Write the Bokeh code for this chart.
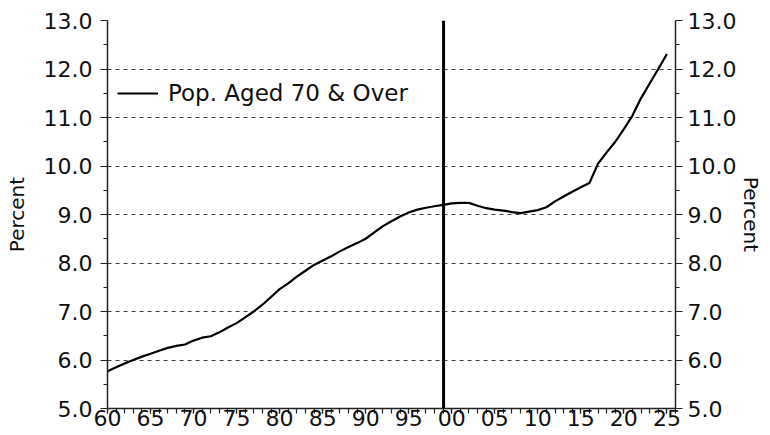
from bokeh.plotting import figure
from bokeh.models import FixedTicker, LinearAxis, Span, Legend, LegendItem, Range1d
from bokeh.embed import file_html
from bokeh.resources import INLINE

YEARS = list(range(1960, 2026))
POP70 = [
    5.77, 5.85, 5.93, 6.00, 6.07, 6.13, 6.19, 6.25, 6.29, 6.32,
    6.40, 6.46, 6.49, 6.57, 6.67, 6.76, 6.88, 7.00, 7.14, 7.30,
    7.46, 7.58, 7.72, 7.84, 7.96, 8.05, 8.14, 8.24, 8.33, 8.41,
    8.50, 8.63, 8.76, 8.86, 8.96, 9.04, 9.10, 9.14, 9.17, 9.20,
    9.23, 9.24, 9.24, 9.18, 9.13, 9.10, 9.08, 9.05, 9.03, 9.06,
    9.09, 9.15, 9.27, 9.37, 9.47, 9.56, 9.65, 10.05, 10.28, 10.50,
    10.76, 11.04, 11.40, 11.70, 12.00, 12.31,
]
SERIES_NAME = "Pop. Aged 70 & Over"
X_TICKS = list(range(1960, 2026, 5))
X_TICK_LABELS = ["60", "65", "70", "75", "80", "85", "90", "95",
                 "00", "05", "10", "15", "20", "25"]
X_MINOR = list(range(1960, 2027))
Y_TICKS = [5.0, 6.0, 7.0, 8.0, 9.0, 10.0, 11.0, 12.0, 13.0]
Y_MINOR = [5.5, 6.5, 7.5, 8.5, 9.5, 10.5, 11.5, 12.5]
DIVIDER_YEAR = 1999.05
X_MIN, X_MAX = 1960, 2026
Y_MIN, Y_MAX = 5.0, 13.0

FONT = "DejaVu Sans"

p = figure(width=770, height=435,
           x_range=Range1d(X_MIN, X_MAX), y_range=Range1d(Y_MIN, Y_MAX),
           output_backend="svg", toolbar_location=None,
           min_border_left=107, min_border_right=95,
           min_border_top=20, min_border_bottom=27)
p.outline_line_color = None
p.background_fill_color = "white"
p.border_fill_color = "white"

r = p.line(YEARS, POP70, line_color="black", line_width=2.2)

p.add_layout(Span(location=DIVIDER_YEAR, dimension="height",
                  line_color="black", line_width=3))

# x axis
xa = p.xaxis[0]
xa.ticker = FixedTicker(ticks=X_TICKS, minor_ticks=X_MINOR)
xa.major_label_overrides = {t: l for t, l in zip(X_TICKS, X_TICK_LABELS)}
xa.major_label_text_font = FONT
xa.major_label_text_font_size = "22px"
xa.major_label_text_color = "#111111"
xa.major_label_standoff = -4
xa.major_tick_in = 0
xa.major_tick_out = 5
xa.minor_tick_in = 0
xa.minor_tick_out = 5
xa.axis_line_color = "#222222"
xa.axis_line_width = 1.5
xa.major_tick_line_color = "#222222"
xa.minor_tick_line_color = "#222222"
xa.major_tick_line_width = 1.2
xa.minor_tick_line_width = 1.2

ylab = {t: f"{t:.1f}" for t in Y_TICKS}

def style_y(ax):
    ax.ticker = FixedTicker(ticks=Y_TICKS, minor_ticks=Y_MINOR)
    ax.major_label_overrides = ylab
    ax.major_label_text_font = FONT
    ax.major_label_text_font_size = "22px"
    ax.major_label_text_color = "#111111"
    ax.major_tick_in = 0
    ax.major_tick_out = 7
    ax.minor_tick_in = 0
    ax.minor_tick_out = 4
    ax.axis_line_color = "#222222"
    ax.axis_line_width = 1.5
    ax.major_tick_line_color = "#222222"
    ax.minor_tick_line_color = "#222222"
    ax.axis_label = "Percent"
    ax.axis_label_text_font = FONT
    ax.axis_label_text_font_size = "20px"
    ax.axis_label_text_font_style = "normal"
    ax.axis_label_text_color = "#111111"

ya = p.yaxis[0]
style_y(ya)
ya.major_label_standoff = 8
ya.axis_label_standoff = 12

ra = LinearAxis()
style_y(ra)
ra.major_label_standoff = 5
ra.axis_label_standoff = 0
p.add_layout(ra, "right")

p.xgrid.grid_line_color = None
p.ygrid.ticker = FixedTicker(ticks=Y_TICKS)
p.ygrid.grid_line_color = "#444444"
p.ygrid.grid_line_dash = "4 4"
p.ygrid.grid_line_width = 1

legend = Legend(items=[LegendItem(label=SERIES_NAME, renderers=[r])],
                location=(10, 302), orientation="vertical",
                glyph_width=41, glyph_height=20, label_standoff=10,
                padding=0, margin=0, spacing=0,
                border_line_color=None, background_fill_alpha=0,
                label_text_font=FONT, label_text_font_size="23px",
                label_text_color="#111111")
p.add_layout(legend, "center")

open("out.html", "w").write(file_html(p, INLINE))
